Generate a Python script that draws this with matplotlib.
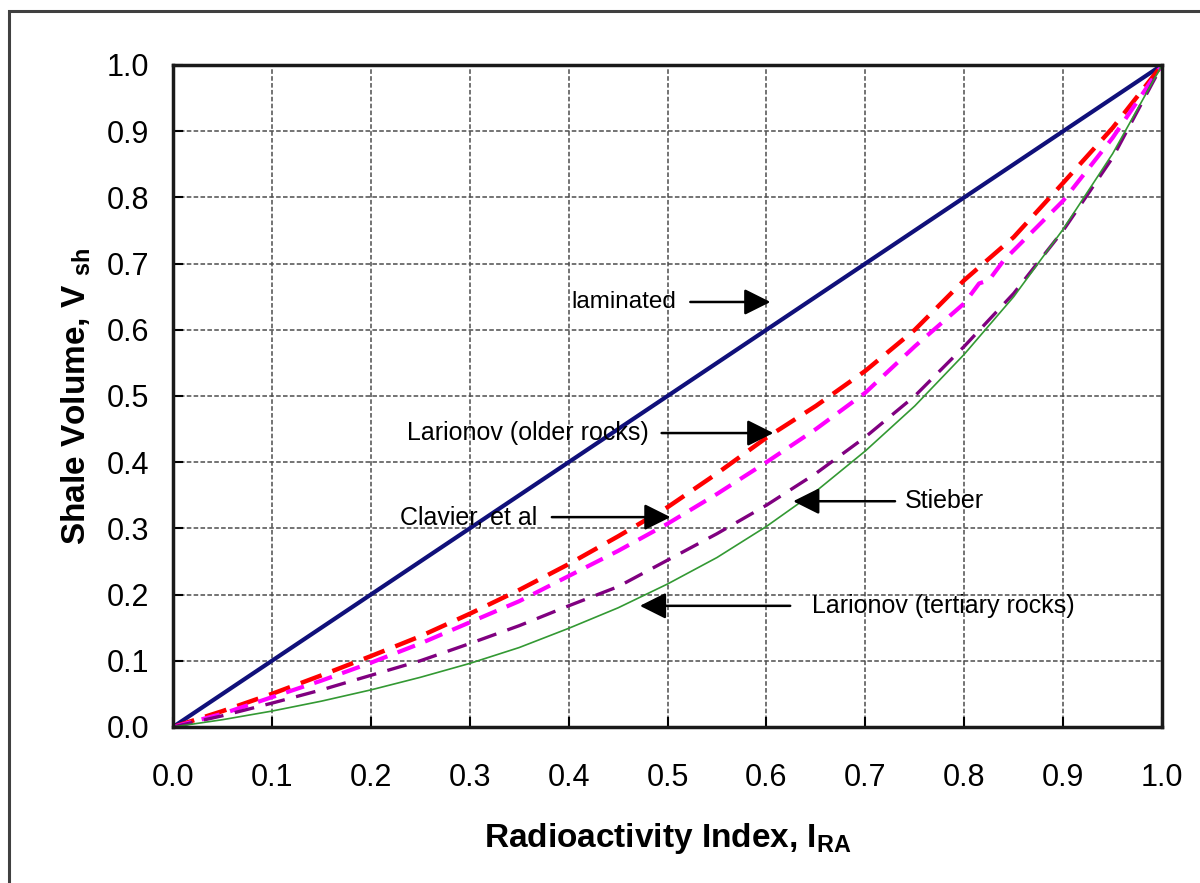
import matplotlib
matplotlib.use('Agg')
import matplotlib.pyplot as plt
from matplotlib.patches import Rectangle

plt.rcParams['font.family'] = ['Liberation Sans', 'DejaVu Sans']
plt.rcParams['mathtext.fontset'] = 'custom'
plt.rcParams['mathtext.rm'] = 'Liberation Sans'
plt.rcParams['mathtext.bf'] = 'Liberation Sans:bold'

# Werte (Radioaktivitätsindex -> Tonvolumen)
i_lam = [0.0, 1.0]
v_lam = [0.0, 1.0]

i_old = [0.0, 0.05, 0.1, 0.15, 0.2, 0.25, 0.3, 0.35, 0.4, 0.45, 0.5,
         0.55, 0.6, 0.65, 0.7, 0.75, 0.8, 0.85, 0.9, 0.95, 1.0]
v_old = [0.0, 0.024, 0.05, 0.078, 0.107, 0.137, 0.171, 0.207, 0.246, 0.288, 0.332,
         0.383, 0.437, 0.485, 0.538, 0.60, 0.675, 0.74, 0.822, 0.905, 1.0]

i_clav = [0.0, 0.05, 0.1, 0.15, 0.2, 0.25, 0.3, 0.35, 0.4, 0.45, 0.5,
          0.55, 0.6, 0.65, 0.7, 0.75, 0.8, 0.815, 0.825, 0.84, 0.9, 0.95, 1.0]
v_clav = [0.0, 0.02, 0.045, 0.07, 0.097, 0.126, 0.158, 0.19, 0.228, 0.266, 0.307,
          0.352, 0.40, 0.45, 0.505, 0.575, 0.64, 0.67, 0.675, 0.705, 0.795, 0.89, 1.0]

i_stb = [0.0, 0.05, 0.1, 0.15, 0.2, 0.25, 0.3, 0.35, 0.4, 0.45, 0.5,
         0.55, 0.6, 0.65, 0.7, 0.75, 0.8, 0.85, 0.9, 0.95, 1.0]
v_stb = [0.0, 0.017, 0.036, 0.056, 0.078, 0.10, 0.126, 0.153, 0.183, 0.212, 0.252,
         0.292, 0.335, 0.383, 0.438, 0.50, 0.575, 0.655, 0.75, 0.86, 1.0]

i_tert = [0.0, 0.05, 0.1, 0.15, 0.2, 0.25, 0.3, 0.35, 0.4, 0.45, 0.5,
          0.55, 0.6, 0.65, 0.7, 0.75, 0.8, 0.85, 0.9, 0.95, 1.0]
v_tert = [0.0, 0.011, 0.024, 0.039, 0.056, 0.075, 0.096, 0.12, 0.149, 0.18, 0.216,
          0.256, 0.303, 0.356, 0.417, 0.485, 0.563, 0.65, 0.752, 0.866, 1.0]

ticks = [0.0, 0.1, 0.2, 0.3, 0.4, 0.5, 0.6, 0.7, 0.8, 0.9, 1.0]
tick_labels = ['0.0', '0.1', '0.2', '0.3', '0.4', '0.5', '0.6', '0.7', '0.8', '0.9', '1.0']

fig = plt.figure(figsize=(12, 8.83), dpi=100)
ax = fig.add_axes([0.1442, 0.1767, 0.8242, 0.7497])

ax.plot(i_lam, v_lam, color='#10107a', lw=3, solid_capstyle='butt')
ax.plot(i_old, v_old, color='#ff0000', lw=3.2, dashes=(5, 2.6))
ax.plot(i_clav, v_clav, color='#ff00ff', lw=3, dashes=(4.5, 2.6))
ax.plot(i_stb, v_stb, color='#800080', lw=2.4, dashes=(6, 3.5))
ax.plot(i_tert, v_tert, color='#339933', lw=1.2)

ax.set_xlim(0, 1)
ax.set_ylim(0, 1)
ax.set_xticks(ticks)
ax.set_xticklabels(tick_labels)
ax.set_yticks(ticks)
ax.set_yticklabels(tick_labels)
ax.tick_params(direction='in', length=7, width=1.5, labelsize=22, color='black')
ax.tick_params(axis='y', pad=17)
ax.tick_params(axis='x', pad=26)
ax.grid(True, color='0.3', lw=1.1, ls=(0, (3, 1.5)))
ax.set_axisbelow(True)
for s in ax.spines.values():
    s.set_linewidth(2.5)
    s.set_color('0.1')

ax.set_xlabel(r'Radioactivity Index, I$_{\mathbf{RA}}$', fontsize=24, fontweight='bold', labelpad=20)
ax.set_ylabel(r'Shale Volume, V $_{\mathbf{sh}}$', fontsize=24, fontweight='bold', labelpad=10)

arrow = dict(arrowstyle='-|>', mutation_scale=40, lw=1.8, color='black', shrinkA=0, shrinkB=0)
fs = 18
ax.text(0.403, 0.642, 'laminated', fontsize=17.5, va='center', ha='left')
ax.annotate('', xy=(0.604, 0.642), xytext=(0.523, 0.642), arrowprops=arrow)
ax.text(0.237, 0.444, 'Larionov (older rocks)', fontsize=fs, va='center', ha='left')
ax.annotate('', xy=(0.607, 0.444), xytext=(0.494, 0.444), arrowprops=arrow)
ax.text(0.229, 0.317, 'Clavier, et al', fontsize=fs, va='center', ha='left')
ax.annotate('', xy=(0.503, 0.317), xytext=(0.383, 0.317), arrowprops=arrow)
ax.text(0.740, 0.341, 'Stieber', fontsize=fs, va='center', ha='left')
ax.annotate('', xy=(0.627, 0.341), xytext=(0.730, 0.341), arrowprops=arrow)
ax.text(0.646, 0.183, 'Larionov (tertiary rocks)', fontsize=fs, va='center', ha='left')
ax.annotate('', xy=(0.472, 0.183), xytext=(0.624, 0.183), arrowprops=arrow)

fig.patches.append(Rectangle((9 / 1200, -0.1), 1.2, 1.1 - 11 / 883,
                             transform=fig.transFigure, fill=False, lw=2.2, ec='0.25'))

fig.savefig('out.png', dpi=100)
